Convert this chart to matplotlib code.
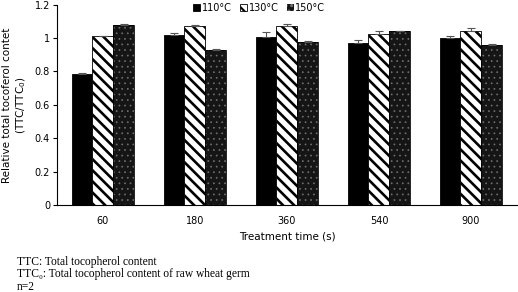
import numpy as np
import matplotlib
matplotlib.use("Agg")
import matplotlib.pyplot as plt

# Datos
tiempos = ["60", "180", "360", "540", "900"]
series = ["110°C", "130°C", "150°C"]
ttc_110 = [0.786, 1.020, 1.004, 0.969, 0.999]
ttc_130 = [1.012, 1.072, 1.072, 1.026, 1.044]
ttc_150 = [1.080, 0.928, 0.975, 1.043, 0.957]
err_110 = [0.003, 0.008, 0.032, 0.018, 0.014]
err_130 = [0.002, 0.006, 0.011, 0.018, 0.018]
err_150 = [0.003, 0.004, 0.010, 0.002, 0.009]

fig = plt.figure(figsize=(5.18, 2.92), dpi=100)
ax = fig.add_axes([0.110, 0.298, 0.888, 0.686])

x = np.arange(len(tiempos))
w = 0.228

# 110 - negro solido
b1 = ax.bar(x - w, ttc_110, w, color='black', edgecolor='black', linewidth=0.6, label=series[0])
# 130 - rayas diagonales gruesas
plt.rcParams['hatch.linewidth'] = 1.9
b2 = ax.bar(x, ttc_130, w, color='white', edgecolor='black', hatch='\\\\\\', linewidth=0.6, label=series[1])
# 150 - oscuro punteado
plt.rcParams['hatch.linewidth'] = 0.5
b3 = ax.bar(x + w, ttc_150, w, color='#151515', edgecolor='#707070', hatch='...', linewidth=0, label=series[2])
ax.bar(x + w, ttc_150, w, fill=False, edgecolor='black', linewidth=0.6)

for off, vals, errs in [(-w, ttc_110, err_110), (0, ttc_130, err_130), (w, ttc_150, err_150)]:
    ax.errorbar(x + off, vals, yerr=[np.zeros(len(errs)), errs], fmt='none',
                ecolor='#555555', elinewidth=0.8, capsize=3, capthick=0.8)

ax.set_xlim(-0.5, len(tiempos) - 0.5)
ax.set_ylim(0, 1.2)
ax.set_yticks([0, 0.2, 0.4, 0.6, 0.8, 1.0, 1.2])
ax.set_yticklabels(["0", "0.2", "0.4", "0.6", "0.8", "1", "1.2"])
ax.set_xticks(x)
ax.set_xticklabels(tiempos)
ax.tick_params(axis='x', length=0, labelsize=7, pad=8)
ax.tick_params(axis='y', length=3, labelsize=7, pad=2)

for s in ['top', 'right']:
    ax.spines[s].set_visible(False)
ax.spines['left'].set_linewidth(0.8)
ax.spines['bottom'].set_linewidth(0.8)

ax.set_xlabel("Treatment time (s)", fontsize=7.5, labelpad=4)
ax.set_ylabel("Relative total tocoferol contet\n(TTC/TTC$_0$)", fontsize=7.5, labelpad=5)

plt.rcParams['hatch.linewidth'] = 1.5
ax.legend(handles=[b1, b2, b3], loc='center', bbox_to_anchor=(0.44, 0.984), ncol=3, frameon=False,
          fontsize=7, handlelength=0.7, handleheight=0.7, handletextpad=0.15,
          columnspacing=0.9, borderaxespad=0, borderpad=0)

notas = ["TTC: Total tocopherol content",
         "TTC₀: Total tocopherol content of raw wheat germ",
         "n=2"]
for i, t in enumerate(notas):
    fig.text(17 / 518, 1 - (261.5 + 12.5 * i) / 292, t, fontsize=8.3,
             family=['Liberation Serif', 'DejaVu Serif'], va='center', ha='left')

fig.savefig("out.png", dpi=100)
